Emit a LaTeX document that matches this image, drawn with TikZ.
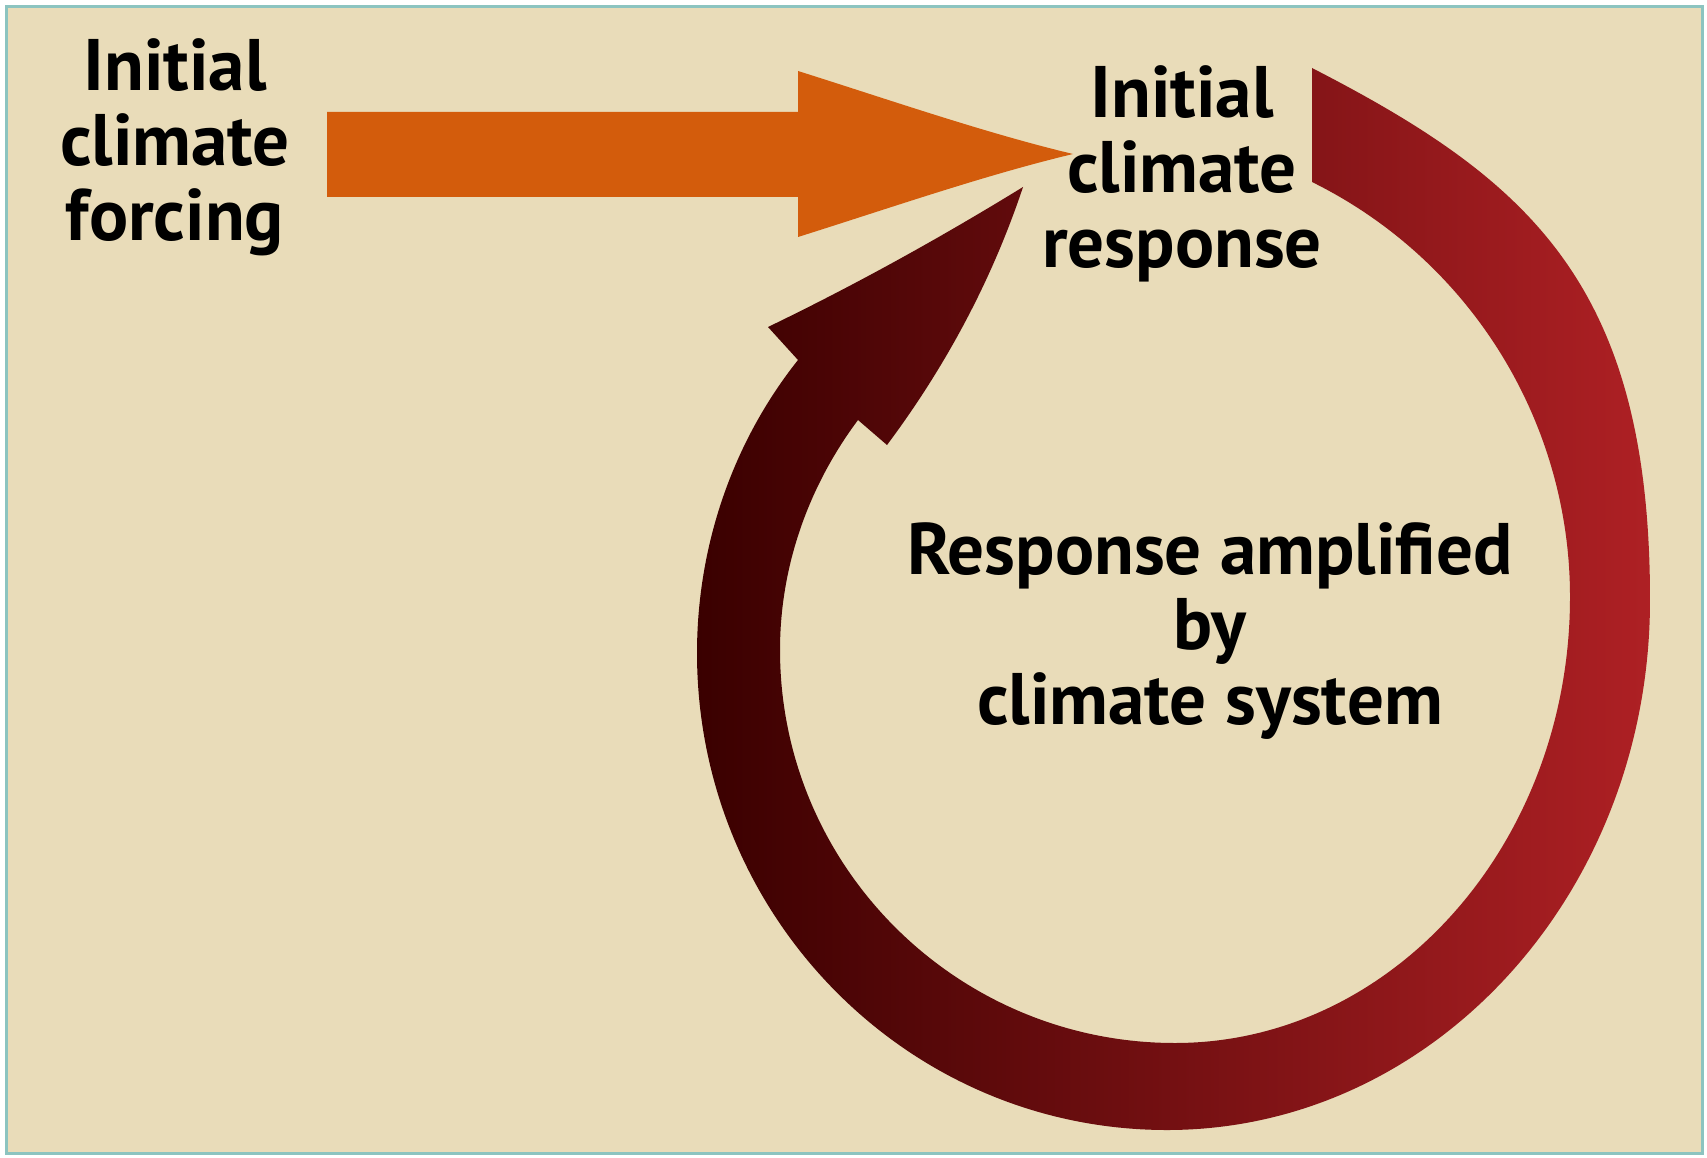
\documentclass[tikz,border=0pt]{standalone}
\usepackage{fontspec}
\setmainfont{PT Sans}
\definecolor{bgbeige}{RGB}{233,220,185}
\definecolor{frameteal}{RGB}{140,196,192}
\definecolor{forceorange}{RGB}{211,92,12}
\definecolor{loopdark}{RGB}{58,0,0}
\definecolor{loopmid}{RGB}{130,20,22}
\definecolor{loopred}{RGB}{174,32,36}
\begin{document}
\begin{tikzpicture}[x=1pt,y=-1pt,
  lbl/.style={font=\bfseries\fontsize{73}{75}\selectfont, align=center, inner sep=0pt, text=black}]
\useasboundingbox (0,0) rectangle (1707,1158);
\fill[white] (0,0) rectangle (1707,1158);
\filldraw[fill=bgbeige, draw=frameteal, line width=3pt] (6,7) rectangle (1702,1153);

% orange forcing arrow
\coordinate (otip) at (1073,154);
\fill[forceorange] (327,112) -- (798,112) -- (798,71)
  .. controls (890,100) and (985,133) .. (otip)
  .. controls (985,175) and (890,208) .. (798,237)
  -- (798,197) -- (327,197) -- cycle;

% feedback loop arrow
\coordinate (ltip) at (1023,187);
\shade[left color=loopdark, middle color=loopmid, right color=loopred]
  (1312,182) -- (1312,68)
  .. controls (1530,180) and (1650,285) .. (1650,600)
  .. controls (1650,893) and (1434,1130) .. (1167,1130)
  .. controls (907,1130) and (697,916) .. (697,653)
  .. controls (697,547) and (732,443) .. (798,360)
  -- (768,327)
  .. controls (855,285) and (940,238) .. (ltip)
  .. controls (992,280) and (946,366) .. (887,445)
  -- (858,420)
  .. controls (808,487) and (780,567) .. (780,650)
  .. controls (780,867) and (957,1043) .. (1175,1043)
  .. controls (1393,1043) and (1570,843) .. (1570,597)
  .. controls (1570,421) and (1470,260) .. (1312,182) -- cycle;

\node[lbl, anchor=base] (forcing) at (175,241) {Initial\\climate\\forcing};
\node[lbl, anchor=base] (response) at (1182,268) {Initial\\climate\\response};
\node[lbl, anchor=base] (amplified) at (1210,724) {Response amplified\\by\\climate system};
\end{tikzpicture}
\end{document}
